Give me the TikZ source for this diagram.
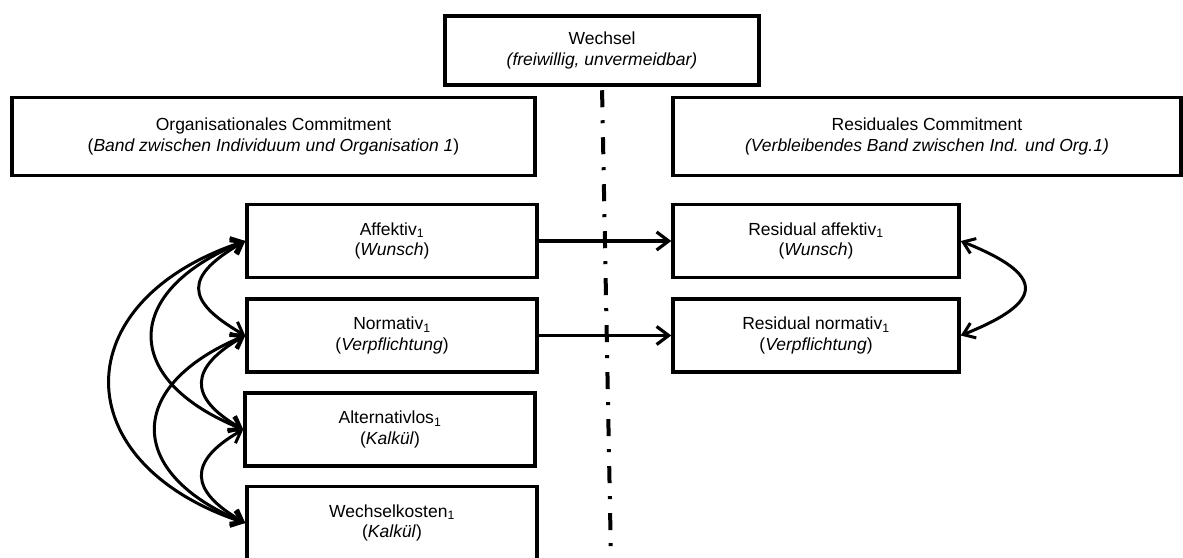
\documentclass[tikz,border=0pt]{standalone}
\usepackage{fontspec}
\setmainfont{Liberation Sans}
\usetikzlibrary{arrows.meta}
\newcommand\boxfont{\fontsize{17.5}{20.5}\selectfont}
\begin{document}
\begin{tikzpicture}[x=1pt,y=-1pt,
  box/.style={draw, line width=3.5pt, align=center, inner sep=0pt, font=\boxfont},
  kbox/.style={box, minimum width=290pt, minimum height=73pt},
  conn/.style={line width=3.2pt, -{Straight Barb[length=12pt,width=18pt]}},
  arc/.style={line width=3pt, {Straight Barb[length=11pt,width=16pt]}-{Straight Barb[length=11pt,width=16pt]}},
  divider/.style={line width=4pt, dash pattern=on 17pt off 13pt on 3pt off 14pt, dash phase=43.5pt}]
\useasboundingbox (0,0) rectangle (1183,557);
\fill[white] (0,0) rectangle (1183,557);

\node[box, minimum width=314pt, minimum height=69pt] (wech) at (602,50.5) {Wechsel\\\textit{(freiwillig, unvermeidbar)}};
\node[box, minimum width=523pt, minimum height=78pt] (org) at (273.5,136.5) {Organisationales Commitment\\(\textit{Band zwischen Individuum und Organisation 1})};
\node[box, minimum width=508pt, minimum height=78pt] (res) at (927,136.5) {Residuales Commitment\\\textit{(Verbleibendes Band zwischen Ind. und Org.1)}};

\node[kbox] (aff) at (392,241) {Affektiv\textsubscript{1}\\(\textit{Wunsch})};
\node[kbox] (nor) at (392,335.5) {Normativ\textsubscript{1}\\(\textit{Verpflichtung})};
\node[kbox] (alt) at (390,429.5) {Alternativlos\textsubscript{1}\\(\textit{Kalkül})};
\node[kbox] (wk) at (392,523) {Wechselkosten\textsubscript{1}\\(\textit{Kalkül})};

\node[box, minimum width=286pt, minimum height=73pt] (raff) at (816,241) {Residual affektiv\textsubscript{1}\\(\textit{Wunsch})};
\node[box, minimum width=286pt, minimum height=73pt] (rnor) at (816,335.5) {Residual normativ\textsubscript{1}\\(\textit{Verpflichtung})};

\coordinate (dend) at (611,560);
\draw[divider] (wech.south) -- (dend);

\draw[conn] (aff.east) -- (raff.west);
\draw[conn] (nor.east) -- (rnor.west);

\draw[arc] (aff.west) .. controls +(-61,35) and +(-61,-35) .. (nor.west);
\draw[arc] (nor.west) .. controls +(-56,32) and +(-56,-32) .. (alt.west);
\draw[arc] (alt.west) .. controls +(-56,32) and +(-56,-32) .. (wk.west);
\draw[arc] (aff.west) .. controls +(-123,50) and +(-123,-50) .. (alt.west);
\draw[arc] (nor.west) .. controls +(-120,50) and +(-120,-50) .. (wk.west);
\draw[arc] (aff.west) .. controls +(-181,60) and +(-181,-60) .. (wk.west);

\draw[arc] (raff.east) .. controls +(85,34) and +(85,-34) .. (rnor.east);
\end{tikzpicture}
\end{document}
